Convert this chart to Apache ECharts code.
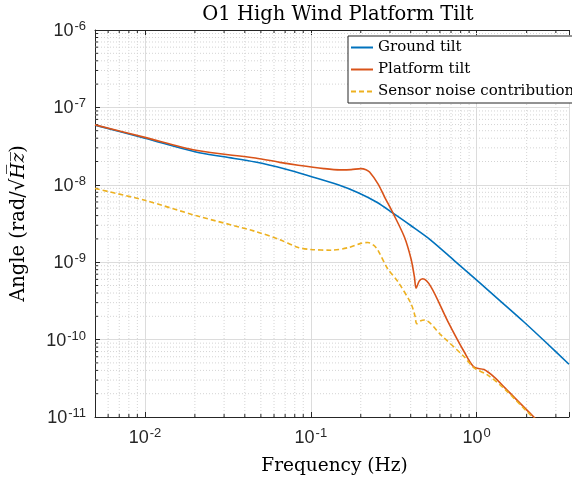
<!DOCTYPE html>
<html><head><meta charset="utf-8">
<script src="https://cdn.jsdelivr.net/npm/echarts@6/dist/echarts.min.js"></script>
<style>html,body{margin:0;padding:0;background:#fff}#c{width:572px;height:481px}</style>
</head><body><div id="c"></div>
<script>
// ---- data ----
const groundFreq = [0.005,0.01,0.0203,0.03,0.0463,0.07,0.099,0.146,0.193,0.25,0.313,0.4,0.53,0.732,1.0,1.4,1.92,2.6,3.6];
const groundVal  = [5.9e-8,4.0e-8,2.65e-8,2.3e-8,1.97e-8,1.6e-8,1.29e-8,1.0e-8,7.9e-9,5.95e-9,4.3e-9,2.98e-9,1.92e-9,1.05e-9,5.86e-10,3.1e-10,1.7e-10,9.3e-11,4.8e-11];

const platFreq = [0.005,0.01,0.0203,0.0463,0.065,0.084,0.12,0.15,0.175,0.2,0.215,0.226,0.254,0.28,0.313,0.367,0.402,0.421,0.431,0.45,0.472,0.53,0.667,0.84,0.965,1.107,1.27,1.49,2.21,2.4];
const platVal  = [5.95e-8,4.1e-8,2.79e-8,2.22e-8,1.95e-8,1.79e-8,1.62e-8,1.56e-8,1.57e-8,1.62e-8,1.57e-8,1.46e-8,1.03e-8,6.8e-9,4.3e-9,2.1e-9,1.1e-9,6.5e-10,4.6e-10,5.7e-10,6.1e-10,4.8e-10,1.75e-10,6.97e-11,4.4e-11,4.1e-11,3.3e-11,2.34e-11,1.0e-11,8.5e-12];

const noiseFreq = [0.005,0.01,0.0203,0.0463,0.065,0.084,0.1,0.133,0.17,0.2,0.221,0.24,0.254,0.29,0.335,0.402,0.425,0.435,0.46,0.484,0.608,0.84,0.965,1.16,1.46,2.1,2.3];
const noiseVal  = [8.95e-9,6.3e-9,4.0e-9,2.5e-9,1.95e-9,1.55e-9,1.46e-9,1.43e-9,1.55e-9,1.75e-9,1.8e-9,1.65e-9,1.42e-9,8.3e-10,5.6e-10,2.9e-10,2.0e-10,1.6e-10,1.75e-10,1.79e-10,1.15e-10,6.0e-11,4.3e-11,3.5e-11,2.34e-11,1.07e-11,9e-12];

const seriesNames = ['Ground tilt','Platform tilt','Sensor noise contribution'];
const X_MIN = 0.005, X_MAX = 3.6;
const Y_MIN = 1e-11, Y_MAX = 1e-6;
const xMinorTicks = [0.006,0.007,0.008,0.009,0.02,0.03,0.04,0.05,0.06,0.07,0.08,0.09,0.2,0.3,0.4,0.5,0.6,0.7,0.8,0.9,2,3];
const yMinorTicks = [];
[1e-11,1e-10,1e-9,1e-8,1e-7].forEach(d => { for (let k = 2; k <= 9; k++) yMinorTicks.push(k*d); });

// ---- chart ----
const AX = '#262626';
const SERIF = 'DejaVu Serif';
const zip = (a, b) => a.map((v, i) => [v, b[i]]);
function powLabel(v) {
  const e = Math.round(Math.log10(v));
  if (Math.abs(Math.log10(v) - e) > 1e-6) return '';
  return '{b|10}{s|' + e + '}';
}
const rich = {
  b: {fontFamily: 'Liberation Sans', fontSize: 18, color: AX, lineHeight: 20, verticalAlign: 'bottom'},
  s: {fontFamily: 'Liberation Sans', fontSize: 13, color: AX, lineHeight: 14, verticalAlign: 'top', padding: [0, 0, 12, 1]}
};
const chart = echarts.init(document.getElementById('c'), null, {renderer: 'canvas'});

function minorX(params, api) {
  const v = api.value(0);
  const p1 = api.coord([v, Y_MIN]), p2 = api.coord([v, Y_MAX]);
  return {type: 'group', silent: true, children: [
    {type: 'line', shape: {x1: p1[0], y1: p1[1], x2: p2[0], y2: p2[1]}, style: {stroke: '#d4d4d4', lineWidth: 1, lineDash: [1, 2]}},
    {type: 'line', shape: {x1: p1[0], y1: p1[1], x2: p1[0], y2: p1[1] - 3}, style: {stroke: AX, lineWidth: 1}},
    {type: 'line', shape: {x1: p2[0], y1: p2[1], x2: p2[0], y2: p2[1] + 3}, style: {stroke: AX, lineWidth: 1}}
  ]};
}
function minorY(params, api) {
  const v = api.value(1);
  const p1 = api.coord([X_MIN, v]), p2 = api.coord([X_MAX, v]);
  return {type: 'group', silent: true, children: [
    {type: 'line', shape: {x1: p1[0], y1: p1[1], x2: p2[0], y2: p2[1]}, style: {stroke: '#d4d4d4', lineWidth: 1, lineDash: [1, 2]}},
    {type: 'line', shape: {x1: p1[0], y1: p1[1], x2: p1[0] + 3, y2: p1[1]}, style: {stroke: AX, lineWidth: 1}}
  ]};
}

chart.setOption({
  animation: false,
  backgroundColor: '#fff',
  title: {
    text: 'O1 High Wind Platform Tilt', left: 333, top: 0, textAlign: 'center',
    textStyle: {fontFamily: SERIF, fontSize: 19.5, fontWeight: 'normal', color: '#000'}
  },
  grid: {left: 95, top: 30, right: -1, bottom: 64, containLabel: false},
  legend: {
    left: 348, top: 36, orient: 'vertical',
    data: seriesNames,
    itemWidth: 22, itemHeight: 14, itemGap: 7,
    padding: [4, 8, 4, 2],
    borderColor: AX, borderWidth: 1, backgroundColor: '#fff',
    itemStyle: {opacity: 0},
    textStyle: {fontFamily: SERIF, fontSize: 15, lineHeight: 14, color: '#000'}
  },
  xAxis: [{
    type: 'log', logBase: 10, min: X_MIN, max: X_MAX,
    name: 'Frequency (Hz)', nameLocation: 'middle', nameGap: 38,
    nameTextStyle: {fontFamily: SERIF, fontSize: 18.5, color: '#000', padding: [0, 0, 0, 5]},
    axisLine: {show: true, lineStyle: {color: AX, width: 1}},
    axisTick: {show: true, inside: true, length: 5, lineStyle: {color: AX}},
    axisLabel: {formatter: powLabel, rich: rich, margin: 10, showMinLabel: true, showMaxLabel: true},
    splitLine: {show: true, lineStyle: {color: '#dcdcdc', width: 1}},
    minorTick: {show: false}, minorSplitLine: {show: false}
  }, {
    type: 'log', logBase: 10, min: X_MIN, max: X_MAX, position: 'top',
    axisLine: {show: true, lineStyle: {color: AX, width: 1}},
    axisTick: {show: true, inside: true, length: 5, lineStyle: {color: AX}},
    axisLabel: {show: false}, splitLine: {show: false}
  }],
  yAxis: [{
    type: 'log', logBase: 10, min: Y_MIN, max: Y_MAX,
    name: 'Angle (rad/{r|√}{i|H\u0305z\u0305})', nameLocation: 'middle', nameGap: 66, nameRotate: 90,
    nameTextStyle: {fontFamily: SERIF, fontSize: 19.5, color: '#000',
      rich: {r: {fontFamily: SERIF, fontSize: 19.5, color: '#000'}, i: {fontFamily: SERIF, fontStyle: 'italic', fontSize: 18.5, color: '#000'}}},
    axisLine: {show: true, lineStyle: {color: AX, width: 1}},
    axisTick: {show: true, inside: true, length: 5, lineStyle: {color: AX}},
    axisLabel: {formatter: powLabel, rich: rich, margin: 9},
    splitLine: {show: true, lineStyle: {color: '#dcdcdc', width: 1}},
    minorTick: {show: false}, minorSplitLine: {show: false}
  }],
  series: [
    {type: 'custom', renderItem: minorX, data: xMinorTicks.map(v => [v, Y_MIN]), silent: true, z: 1},
    {type: 'custom', renderItem: minorY, data: yMinorTicks.map(v => [X_MIN, v]), silent: true, z: 1},
    {name: seriesNames[0], type: 'line', data: zip(groundFreq, groundVal), showSymbol: false, symbol: 'none',
     smooth: 0.3, lineStyle: {color: '#0072BD', width: 1.6}, itemStyle: {color: '#0072BD'}, z: 3},
    {name: seriesNames[1], type: 'line', data: zip(platFreq, platVal), showSymbol: false, symbol: 'none',
     smooth: 0.3, lineStyle: {color: '#D95319', width: 1.6}, itemStyle: {color: '#D95319'}, z: 4},
    {name: seriesNames[2], type: 'line', data: zip(noiseFreq, noiseVal), showSymbol: false, symbol: 'none',
     smooth: 0.3, lineStyle: {color: '#EDB120', width: 1.6, type: [5, 3]}, itemStyle: {color: '#EDB120'}, z: 5}
  ]
});
</script></body></html>
